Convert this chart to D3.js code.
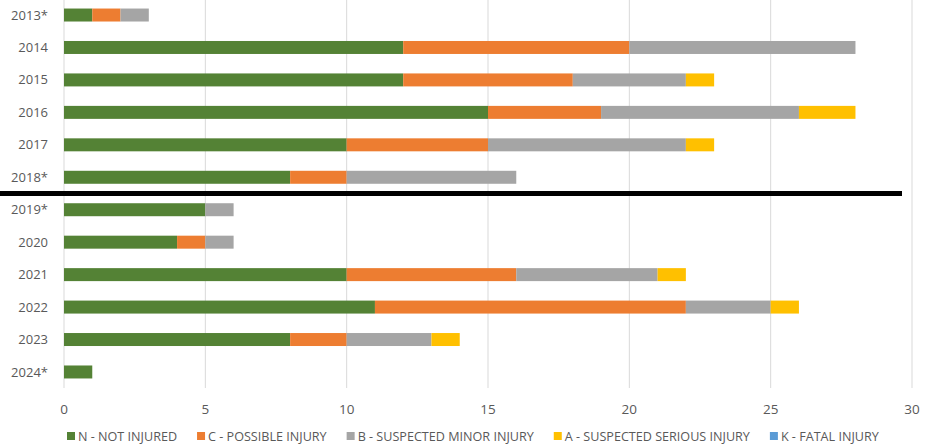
<!DOCTYPE html>
<html><head><meta charset="utf-8">
<script src="https://cdn.jsdelivr.net/npm/d3@7"></script>
<style>body{margin:0;background:#fff;} svg{display:block;font-family:"Open Sans","Liberation Sans",sans-serif;}</style>
</head><body><svg id="c" width="928" height="446"></svg>
<script>
const categories = ["2013*","2014","2015","2016","2017","2018*","2019*","2020","2021","2022","2023","2024*"];
const seriesNames = ["N - NOT INJURED","C - POSSIBLE INJURY","B - SUSPECTED MINOR INJURY","A - SUSPECTED SERIOUS INJURY","K - FATAL INJURY"];
const notInjured      = [1,12,12,15,10,8,5,4,10,11,8,1];
const possibleInjury  = [1, 8, 6, 4, 5,2,0,1, 6,11,2,0];
const minorInjury     = [1, 8, 4, 7, 7,6,1,1, 5, 3,3,0];
const seriousInjury   = [0, 0, 1, 2, 1,0,0,0, 1, 1,1,0];
const fatalInjury     = [0, 0, 0, 0, 0,0,0,0, 0, 0,0,0];
const xTicks = [0,5,10,15,20,25,30];
const colors = ["#548235","#ED7D31","#A5A5A5","#FFC000","#5B9BD5"];
const dividerAfter = "2018*";

const svg = d3.select("#c");
const x = d3.scaleLinear().domain([0,30]).range([64,912]);
const y = d3.scaleBand().domain(categories).range([-1.2,388.2]).paddingInner(0.6).paddingOuter(0.3);

const rows = categories.map((c,i)=>({cat:c, v:[notInjured[i],possibleInjury[i],minorInjury[i],seriousInjury[i],fatalInjury[i]]}));
const keys = [0,1,2,3,4];
const stack = d3.stack().keys(keys).value((d,k)=>d.v[k])(rows);

// gridlines
svg.append("g").selectAll("line").data(xTicks).join("line")
  .attr("x1",d=>x(d)).attr("x2",d=>x(d)).attr("y1",0).attr("y2",388)
  .attr("stroke","#d9d9d9").attr("stroke-width",1);

// bars
svg.append("g").selectAll("g").data(stack).join("g").attr("fill",(d,i)=>colors[i])
  .selectAll("rect").data(d=>d).join("rect")
  .attr("x",d=>x(d[0])).attr("width",d=>x(d[1])-x(d[0]))
  .attr("y",d=>y(d.data.cat)).attr("height",y.bandwidth());

// category labels
svg.append("g").selectAll("text").data(categories).join("text")
  .attr("x",48).attr("y",d=>y(d)+y.bandwidth()/2).attr("dy","0.35em")
  .attr("text-anchor","end").attr("fill","#595959").attr("font-size",13).text(d=>d);

// x tick labels
svg.append("g").selectAll("text").data(xTicks).join("text")
  .attr("x",d=>x(d)).attr("y",409).attr("dy","0.35em")
  .attr("text-anchor","middle").attr("fill","#595959").attr("font-size",13.5).text(d=>d);

// divider line
const step = y.step();
const dy = y(dividerAfter)+y.bandwidth()/2+step/2;
svg.append("line").attr("x1",0).attr("x2",902).attr("y1",dy).attr("y2",dy)
  .attr("stroke","#000").attr("stroke-width",5);

// legend
const lg = svg.append("g");
let cx = 67;
seriesNames.forEach((n,i)=>{
  lg.append("rect").attr("x",cx).attr("y",432).attr("width",8).attr("height",8).attr("fill",colors[i]);
  const t = lg.append("text").attr("x",cx+11).attr("y",437).attr("dy","0.35em")
    .attr("fill","#595959").attr("font-size",12.6).text(n);
  cx += 11 + t.node().getComputedTextLength() + 20;
});
</script></body></html>
